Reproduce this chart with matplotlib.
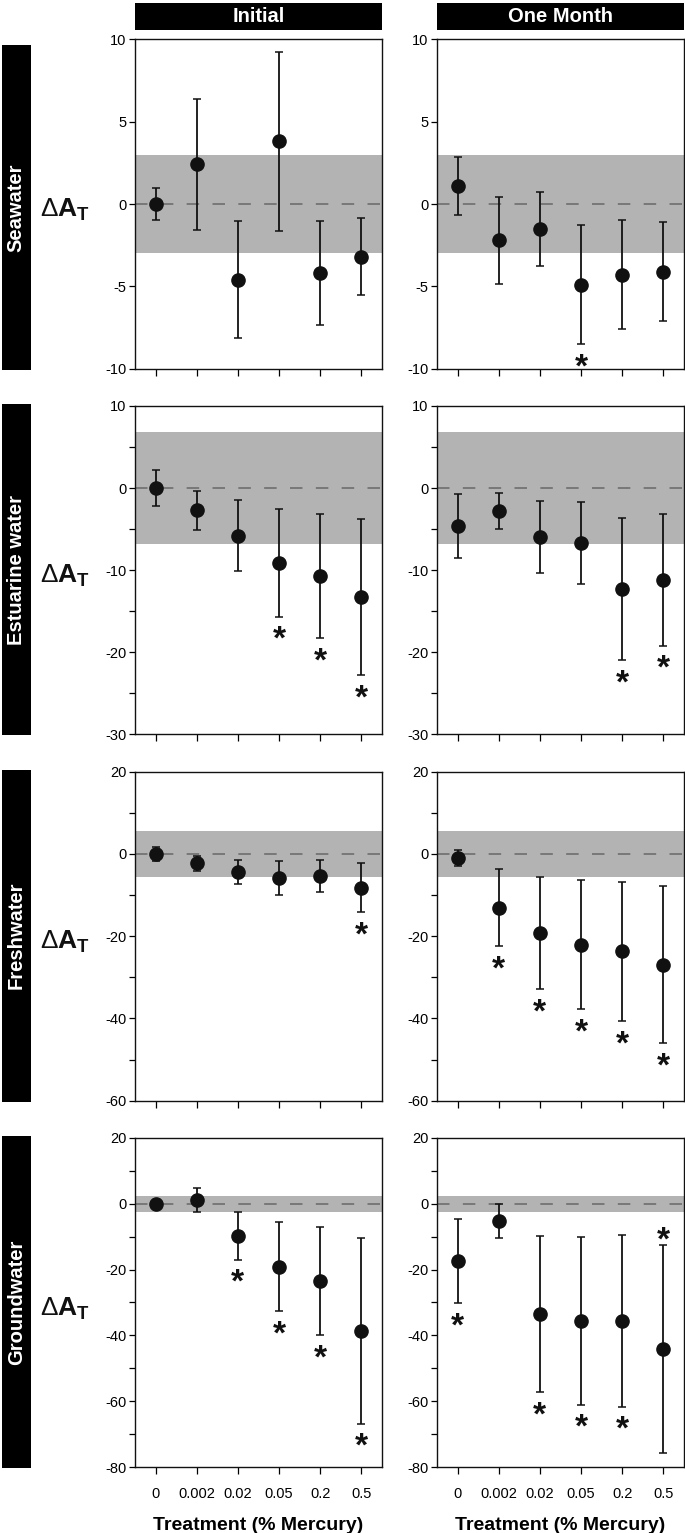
import matplotlib
matplotlib.use("Agg")
import matplotlib.pyplot as plt
from matplotlib.ticker import MultipleLocator

plt.rcParams["font.family"] = ["Liberation Sans", "DejaVu Sans"]
plt.rcParams["mathtext.fontset"] = "custom"
plt.rcParams["mathtext.rm"] = "Liberation Sans"
plt.rcParams["mathtext.bf"] = "Liberation Sans:bold"
plt.rcParams["axes.unicode_minus"] = False

BAND = "#b3b3b3"
ZERO_LINE = "#6e6e6e"
INK = "#111111"

treatments = ["0", "0.002", "0.02", "0.05", "0.2", "0.5"]
waters = ["Seawater", "Estuarine water", "Freshwater", "Groundwater"]
periods = ["Initial", "One Month"]

# mean, error, significance (1 = star below, 2 = star above)
sea_init_mean = [0.0, 2.4, -4.6, 3.8, -4.2, -3.2]
sea_init_err = [0.95, 4.0, 3.55, 5.45, 3.15, 2.35]
sea_init_sig = [0, 0, 0, 0, 0, 0]
sea_month_mean = [1.1, -2.2, -1.5, -4.9, -4.3, -4.1]
sea_month_err = [1.75, 2.65, 2.25, 3.6, 3.3, 3.0]
sea_month_sig = [0, 0, 0, 1, 0, 0]

est_init_mean = [0.0, -2.7, -5.8, -9.1, -10.7, -13.3]
est_init_err = [2.2, 2.35, 4.3, 6.6, 7.6, 9.5]
est_init_sig = [0, 0, 0, 1, 1, 1]
est_month_mean = [-4.6, -2.8, -6.0, -6.7, -12.3, -11.2]
est_month_err = [3.9, 2.2, 4.4, 5.0, 8.7, 8.0]
est_month_sig = [0, 0, 0, 0, 1, 1]

fresh_init_mean = [0.0, -2.3, -4.4, -5.8, -5.4, -8.2]
fresh_init_err = [1.8, 1.9, 3.0, 4.2, 3.9, 6.0]
fresh_init_sig = [0, 0, 0, 0, 0, 1]
fresh_month_mean = [-1.0, -13.1, -19.2, -22.1, -23.7, -26.9]
fresh_month_err = [2.0, 9.4, 13.7, 15.7, 17.0, 19.1]
fresh_month_sig = [0, 1, 1, 1, 1, 1]

ground_init_mean = [-0.2, 1.1, -9.8, -19.1, -23.5, -38.6]
ground_init_err = [0.4, 3.5, 7.2, 13.5, 16.5, 28.2]
ground_init_sig = [0, 0, 1, 1, 1, 1]
ground_month_mean = [-17.5, -5.2, -33.5, -35.6, -35.6, -44.1]
ground_month_err = [12.7, 5.1, 23.7, 25.4, 26.0, 31.6]
ground_month_sig = [1, 0, 1, 1, 1, 2]

# control variability band (+/-) per water type
band_half = [3.0, 6.8, 5.5, 2.4]
y_limits = [(-10, 10), (-30, 10), (-60, 20), (-80, 20)]
y_major = [5, 10, 20, 20]
y_minor = [5, 5, 10, 10]

panels = {
    (0, 0): (sea_init_mean, sea_init_err, sea_init_sig),
    (0, 1): (sea_month_mean, sea_month_err, sea_month_sig),
    (1, 0): (est_init_mean, est_init_err, est_init_sig),
    (1, 1): (est_month_mean, est_month_err, est_month_sig),
    (2, 0): (fresh_init_mean, fresh_init_err, fresh_init_sig),
    (2, 1): (fresh_month_mean, fresh_month_err, fresh_month_sig),
    (3, 0): (ground_init_mean, ground_init_err, ground_init_sig),
    (3, 1): (ground_month_mean, ground_month_err, ground_month_sig),
}

W, H = 685, 1533
fig = plt.figure(figsize=(W / 100, H / 100), dpi=100)
fig.patch.set_facecolor("white")

col_x = [(135, 382), (437, 684)]
row_y = [(39.3, 368.7), (406, 734.3), (771.7, 1100.7), (1137.7, 1467.3)]


def frac(x0, y0, x1, y1):
    return [x0 / W, 1 - y1 / H, (x1 - x0) / W, (y1 - y0) / H]


xs = list(range(len(treatments)))

for r in range(4):
    for c in range(2):
        mean, err, sig = panels[(r, c)]
        ax = fig.add_axes(frac(col_x[c][0], row_y[r][0], col_x[c][1], row_y[r][1]))
        ax.axhspan(-band_half[r], band_half[r], color=BAND, lw=0, zorder=0)
        ax.axhline(0, color=ZERO_LINE, lw=1.2, ls=(0, (7.5, 8)), zorder=1)
        ax.errorbar(xs, mean, yerr=err, fmt="o", color=INK, ms=9.5,
                    elinewidth=1.3, capsize=2.6, capthick=1.1, zorder=3)
        for x, m, e, s in zip(xs, mean, err, sig):
            if s == 1:
                ax.annotate("*", (x, m - e), xytext=(0, -17), textcoords="offset points",
                            ha="center", va="center", fontsize=24, fontweight="bold",
                            color=INK)
            elif s == 2:
                ax.annotate("*", (x, m + e), xytext=(0, 3), textcoords="offset points",
                            ha="center", va="center", fontsize=24, fontweight="bold",
                            color=INK)
        ax.set_xlim(-0.5, 5.5)
        ax.set_ylim(*y_limits[r])
        ax.yaxis.set_major_locator(MultipleLocator(y_major[r]))
        ax.yaxis.set_minor_locator(MultipleLocator(y_minor[r]))
        ax.set_xticks(xs)
        ax.tick_params(axis="y", which="both", direction="out", length=4.5,
                       width=0.9, labelsize=10.5, pad=1.5)
        ax.tick_params(axis="x", direction="out", length=5, width=0.9,
                       labelsize=10.5, pad=9)
        if r == 3:
            ax.set_xticklabels(treatments)
            ax.set_xlabel("Treatment (% Mercury)", fontsize=14, fontweight="bold",
                          labelpad=12)
        else:
            ax.set_xticklabels([])
        for spine in ax.spines.values():
            spine.set_linewidth(1.0)
            spine.set_color(INK)

# column headers
for c, name in enumerate(periods):
    hx = fig.add_axes(frac(col_x[c][0], 3, col_x[c][1], 30))
    hx.set_facecolor("black")
    hx.set_xticks([])
    hx.set_yticks([])
    for spine in hx.spines.values():
        spine.set_visible(False)
    hx.text(0.5, 0.5, name, color="white", fontsize=14.5, fontweight="bold",
            ha="center", va="center", transform=hx.transAxes)

# row labels and y axis labels
for r, name in enumerate(waters):
    y0, y1 = row_y[r]
    bx = fig.add_axes(frac(2, y0 + (6 if r == 0 else -2), 30.6, y1 + 1))
    bx.set_facecolor("black")
    bx.set_xticks([])
    bx.set_yticks([])
    for spine in bx.spines.values():
        spine.set_visible(False)
    bx.text(0.5, 0.5, name, color="white", fontsize=14.5, fontweight="bold",
            rotation=90, ha="center", va="center", transform=bx.transAxes)
    fig.text(65 / W, 1 - ((y0 + y1) / 2 + 6) / H, r"$\mathrm{\Delta}\mathbf{A}_\mathbf{T}$",
             fontsize=19, ha="center", va="center", color=INK)

fig.savefig("out.png", dpi=100, facecolor="white")
